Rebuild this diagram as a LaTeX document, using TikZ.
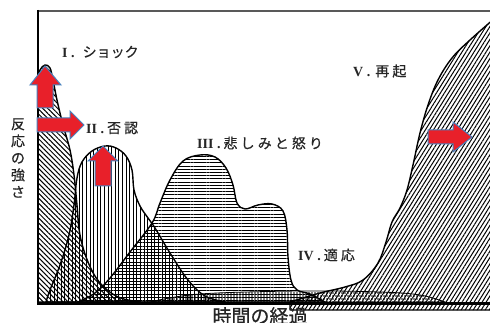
\documentclass[tikz,border=0pt]{standalone}
\usepackage{fontspec}
\newfontfamily\cjk[FakeBold=0.6]{Noto Sans CJK JP}
\newfontfamily\cjkw[LetterSpace=22,FakeBold=0.6]{Noto Sans CJK JP}
\newfontfamily\romf{Liberation Serif}
\usetikzlibrary{patterns.meta}
\definecolor{arrred}{RGB}{232,32,42}
\definecolor{arrblue}{RGB}{70,130,190}
\begin{document}
\begin{tikzpicture}[x=1pt,y=-1pt,
  outl/.style={draw=black,line width=1.4pt,line join=round},
  blockarrow/.style={fill=arrred,draw=arrblue,line width=1pt,line join=miter},
  lab/.style={inner sep=0pt,text=black!85,font=\fontsize{14}{16}\selectfont}]
\useasboundingbox (0,0) rectangle (490,323);
\fill[white] (0,0) rectangle (490,323);

% IV adaptation (low band)
\draw[draw=black,line width=0.8pt,pattern={Dots[distance=3pt,radius=0.9pt]}]
  (150,302) -- plot[smooth,tension=0.6] coordinates {(150,302) (200,294) (300,291) (380,292) (420,295) (445,302)} -- cycle;

% I shock
\draw[outl,pattern={Lines[angle=-45,distance=3.5pt,line width=1pt]}]
  (38,302) -- (38,80) -- plot[smooth,tension=0.6] coordinates {(38,80) (40,70) (45,65) (50,68) (53,80) (57,100) (63,125) (70,150) (74,175) (77,205) (80,235) (88,262) (100,283) (118,297) (140,302)} -- cycle;

% II denial
\draw[outl,pattern={Lines[angle=90,distance=3.6pt,line width=1pt]}]
  plot[smooth,tension=0.6] coordinates {(46,302) (50,290) (60,265) (69,235) (74,205) (77,178) (82,162) (92,151) (105,146) (116,148) (126,156) (132,170) (134,190) (140,206) (148,218) (155,228) (170,253) (188,280) (205,296) (225,302)} -- cycle;

% III sadness and anger
\draw[outl,pattern={Lines[angle=0,distance=3.2pt,line width=1pt]}]
  plot[smooth,tension=0.6] coordinates {(78,302) (95,293) (110,278) (130,252) (152,223) (160,203) (170,180) (183,161) (200,155) (215,157) (226,168) (233,185) (237,203) (245,209) (258,205) (272,204) (283,211) (287,230) (288,257) (291,280) (297,290) (310,294) (325,302)} -- cycle;

% V reorganization
\draw[outl,pattern={Lines[angle=58,distance=3.4pt,line width=1pt]}]
  plot[smooth,tension=0.6] coordinates {(290,302) (320,293) (345,287) (363,280) (378,263) (386,242) (392,222) (400,208) (407,190) (413,165) (420,133) (428,105) (438,80) (452,58) (470,40) (495,18)} -- (495,310) -- (290,310) -- cycle;

% frame
\draw[gray!70!black,line width=2.5pt] (37,11) -- (492,11);
\draw[black,line width=2.2pt] (38,10) -- (38,303);
\draw[black,line width=3pt] (37,303) -- (492,303);

% red block arrows
\draw[blockarrow] (37,108) -- (37,85) -- (30,85) -- (45,66) -- (61,85) -- (53,85) -- (53,108) -- cycle;
\draw[blockarrow] (37,118) -- (70,118) -- (70,111) -- (84,125) -- (70,139) -- (70,132) -- (37,132) -- cycle;
\draw[blockarrow] (95,186) -- (95,161) -- (88,161) -- (103,146) -- (118,161) -- (111,161) -- (111,186) -- cycle;
\draw[blockarrow] (428,130) -- (453,130) -- (453,122) -- (472,137) -- (453,152) -- (453,144) -- (428,144) -- cycle;

% labels
\node[lab,anchor=west] (l1) at (62,52) {{\romf\bfseries I .}\hspace{8pt}{\cjk ショック}};
\node[lab,anchor=west] (l2) at (86,128) {{\romf\bfseries II .}\hspace{3pt}{\cjkw 否認}};
\node[lab,anchor=west] (l3) at (197,143) {{\romf\bfseries III .}\hspace{3pt}{\cjkw 悲しみと怒り}};
\node[lab,anchor=west] (l4) at (298,255) {{\romf\bfseries IV .}\hspace{3pt}{\cjkw 適応}};
\node[lab,anchor=west] (l5) at (353,71) {{\romf\bfseries V .}\hspace{5pt}{\cjkw 再起}};

\node[inner sep=0pt,text=black!85,align=center,font=\cjk\fontsize{14}{17}\selectfont] (ylab) at (18,158) {反\\応\\の\\強\\さ};
\node[inner sep=0pt,text=black!85,anchor=north,font=\cjk\fontsize{19}{20}\selectfont] (xlab) at (260,307) {時間の経過};
\end{tikzpicture}
\end{document}
